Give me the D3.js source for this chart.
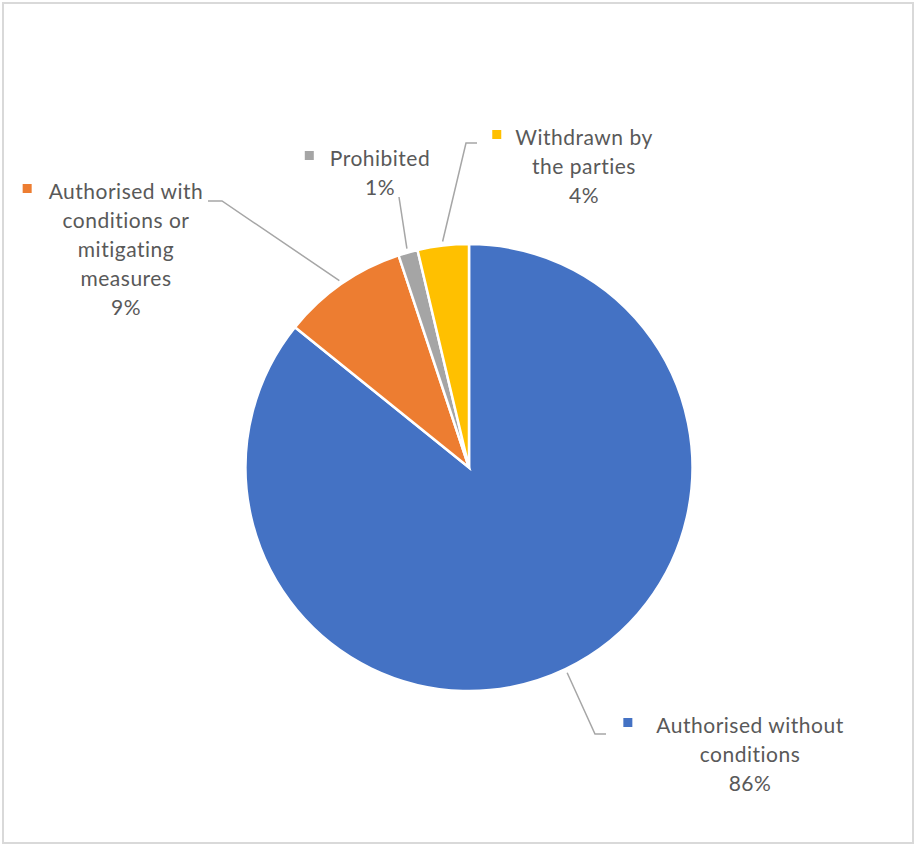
<!DOCTYPE html>
<html>
<head>
<meta charset="utf-8">
<script src="https://cdn.jsdelivr.net/npm/d3@7"></script>
<style>
  body { margin: 0; background: #fff; }
  svg text { font-family: Lato, "Open Sans", sans-serif; fill: #595959; }
</style>
</head>
<body>
<div id="chart"></div>
<script>
// data (share of decisions, %)
let categories = ['Authorised without conditions', 'Authorised with conditions or mitigating measures', 'Prohibited', 'Withdrawn by the parties'];
let values = [85.8, 9.1, 1.4, 3.7];
let labelLines = [
  ['Authorised without', 'conditions'],
  ['Authorised with', 'conditions or', 'mitigating', 'measures'],
  ['Prohibited'],
  ['Withdrawn by', 'the parties']
];
let colors = ['#4472C4', '#ED7D31', '#A5A5A5', '#FFC000'];

let width = 916;
let height = 846;
let cx = 469;
let cy = 467.5;
let r = 223.5;
let lineH = 29;

// where each label sits and where its leader line bends
let layout = [
  { x: 750, y: 733, bend: [595, 734], end: [606, 734], gap: 24 },
  { x: 126, y: 199, bend: [222, 201], end: [208, 201], gap: 17 },
  { x: 380, y: 166, bend: [399, 197], end: [399, 197], gap: 16 },
  { x: 584, y: 145, bend: [466, 143], end: [477, 143], gap: 14 }
];

let svg = d3.select('#chart')
  .append('svg')
  .attr('width', width)
  .attr('height', height);

svg.append('rect')
  .attr('x', 3)
  .attr('y', 3)
  .attr('width', width - 6)
  .attr('height', height - 6)
  .attr('fill', '#fff')
  .attr('stroke', '#d9d9d9')
  .attr('stroke-width', 2);

let pie = d3.pie().sort(null).value(d => d);
let arcs = pie(values);
let total = d3.sum(values);
let fmt = d3.format('.0%');

let arc = d3.arc().innerRadius(0).outerRadius(r);
let edge = d3.arc().innerRadius(r + 4).outerRadius(r + 4);

let g = svg.append('g').attr('transform', 'translate(' + cx + ',' + cy + ')');

g.selectAll('path.slice')
  .data(arcs)
  .enter().append('path')
  .attr('class', 'slice')
  .attr('d', arc)
  .attr('fill', (d, i) => colors[i])
  .attr('stroke', '#fff')
  .attr('stroke-width', 2.5);

// leader lines
svg.selectAll('polyline.leader')
  .data(arcs)
  .enter().append('polyline')
  .attr('class', 'leader')
  .attr('points', (d, i) => {
    let p = edge.centroid(d);
    let L = layout[i];
    return [[p[0] + cx, p[1] + cy], L.bend, L.end].map(q => q.join(',')).join(' ');
  })
  .attr('fill', 'none')
  .attr('stroke', '#a6a6a6')
  .attr('stroke-width', 1.5);

// labels: name lines, then percentage
arcs.forEach((d, i) => {
  let L = layout[i];
  let lines = labelLines[i].concat([fmt(values[i] / total)]);
  let t = svg.append('text')
    .attr('text-anchor', 'middle')
    .style('font-size', '21px')
    .style('letter-spacing', '0.5px');
  lines.forEach((s, k) => {
    t.append('tspan')
      .attr('x', L.x)
      .attr('y', L.y + k * lineH)
      .text(s);
  });
  let w = t.select('tspan').node().getComputedTextLength();
  svg.append('rect')
    .attr('x', L.x - w / 2 - L.gap - 9)
    .attr('y', L.y - 15)
    .attr('width', 9)
    .attr('height', 9)
    .attr('fill', colors[i]);
});
</script>
</body>
</html>
